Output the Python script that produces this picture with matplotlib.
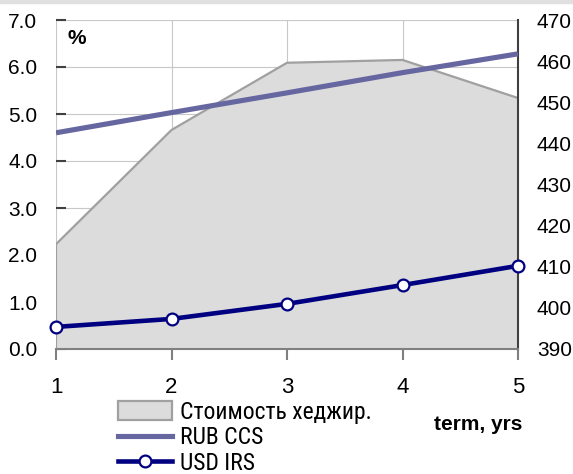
import matplotlib
matplotlib.use("Agg")
import matplotlib.pyplot as plt
from matplotlib import font_manager as fm
from matplotlib.patches import Patch
from matplotlib.lines import Line2D

names = {f.name for f in fm.fontManager.ttflist}
plt.rcParams["font.family"] = ["Liberation Sans", "DejaVu Sans"]
narrow = None
for cand in ["Liberation Sans Narrow", "Arial Narrow", "Roboto Condensed"]:
    if cand in names:
        narrow = cand
        break
leg_family = [narrow, "Liberation Sans", "DejaVu Sans"] if narrow else ["Liberation Sans", "DejaVu Sans"]
leg_size = 17 if narrow else 16

terms = [1, 2, 3, 4, 5]
hedge_cost = [2.23, 4.66, 6.09, 6.15, 5.34]
rub_ccs = [4.60, 5.03, 5.45, 5.88, 6.28]
usd_irs = [0.47, 0.64, 0.96, 1.36, 1.77]
left_ticks = [0, 1, 2, 3, 4, 5, 6, 7]
right_ticks = [390, 400, 410, 420, 430, 440, 450, 460, 470]

W, H = 573, 474
fig = plt.figure(figsize=(W / 100, H / 100), dpi=100)
fig.patches.append(plt.Rectangle((0, 1 - 3 / H), 1, 3 / H, transform=fig.transFigure,
                                 color="#e0e0e0", zorder=0))
ax = fig.add_axes([56 / W, 1 - 349 / H, (518 - 56) / W, (349 - 20) / H])
ax.set_xlim(1, 5)
ax.set_ylim(0, 7)

ax.fill_between(terms, hedge_cost, 0, facecolor="#dcdcdc", edgecolor="none", zorder=1)
ax.plot(terms, hedge_cost, color="#a0a0a0", lw=1.6, zorder=2)
ax.plot([terms[0], terms[0]], [0, hedge_cost[0]], color="#a0a0a0", lw=1.6, zorder=2)
ax.plot(terms, rub_ccs, color="#6666a0", lw=3.7, zorder=3, solid_capstyle="butt")
ax.plot(terms, usd_irs, color="#000080", lw=3.3, zorder=4, marker="o", ms=8.5,
        mfc="white", mec="#000080", mew=1.6, clip_on=False)

ax.set_yticks(left_ticks)
ax.set_yticklabels([f"{v:.1f}" for v in left_ticks])
ax.set_xticks(terms)
ax.grid(True, color="#c8c8c8", lw=0.8, zorder=0)
ax.set_axisbelow(True)
for s in ["top", "left"]:
    ax.spines[s].set_visible(False)
ax.spines["bottom"].set_color("#808080")
ax.spines["bottom"].set_linewidth(1.5)
ax.spines["right"].set_color("#404040")
ax.spines["right"].set_linewidth(1.5)
ax.tick_params(axis="y", left=False, right=True, direction="in", length=7, width=1.5,
               color="#404040", labelleft=True, labelright=False, labelsize=15, pad=13.5)
ax.tick_params(axis="x", length=8, width=1.5, color="#808080", direction="out",
               labelsize=16, pad=12)

ax2 = ax.twinx()
ax2.set_ylim(390, 470)
ax2.set_yticks(right_ticks)
for s in ["top", "left", "bottom", "right"]:
    ax2.spines[s].set_visible(False)
ax2.tick_params(axis="y", length=0, labelsize=15, pad=13.5)

fig.text(67 / W, 1 - 38 / H, "%", fontsize=15, fontweight="bold", va="center", ha="left")
fig.text(522 / W, 1 - 425 / H, "term, yrs", fontsize=15, fontweight="bold",
         va="center", ha="right")

handles = [
    Patch(facecolor="#dcdcdc", edgecolor="#a0a0a0", lw=1.6),
    Line2D([], [], color="#6666a0", lw=3.7),
    Line2D([], [], color="#000080", lw=3.3, marker="o", ms=8.5, mfc="white",
           mec="#000080", mew=1.6),
]
labels = ["Стоимость хеджир.", "RUB CCS", "USD IRS"]
fpx = leg_size * 100 / 72
fig.legend(handles, labels, loc="upper left", bbox_to_anchor=(118 / W, 1 - 401 / H),
           frameon=False, prop={"family": leg_family, "size": leg_size},
           handlelength=54 / fpx, handleheight=0.85,
           labelspacing=0.1, handletextpad=8 / fpx, borderpad=0, borderaxespad=0)

fig.savefig("out.png", dpi=100)
